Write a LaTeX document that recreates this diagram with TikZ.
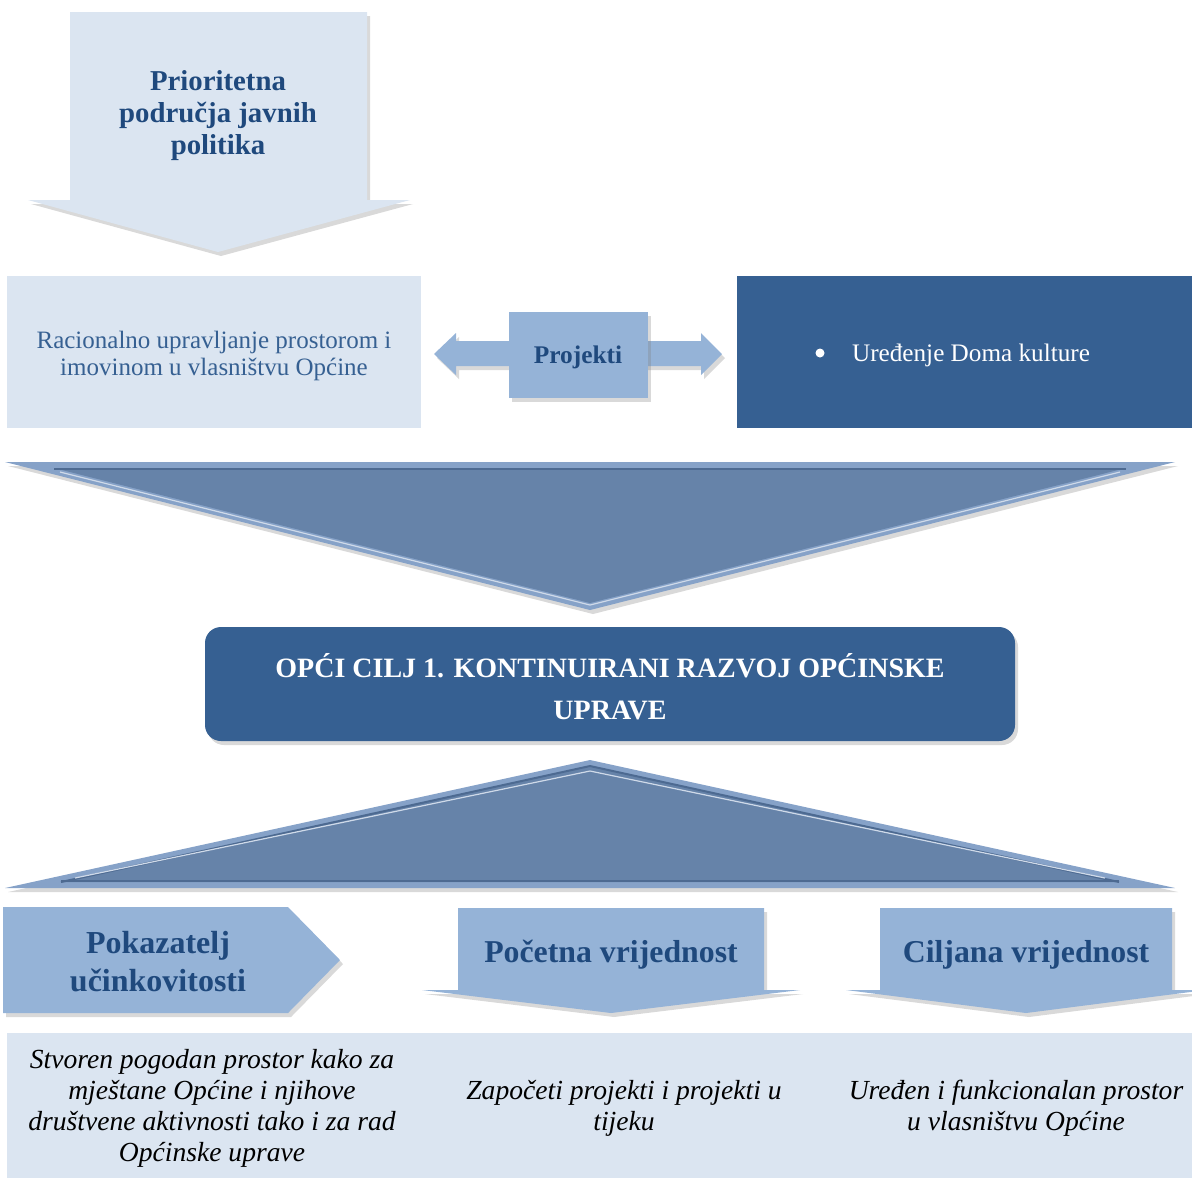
\documentclass[tikz,border=0pt]{standalone}
\usepackage{fontspec}
\setmainfont{Liberation Serif}
\usetikzlibrary{positioning,shadows}
\definecolor{paleblue}{HTML}{DBE5F1}
\definecolor{midblue}{HTML}{95B3D7}
\definecolor{deepblue}{HTML}{366092}
\definecolor{triblue}{HTML}{6683A9}
\definecolor{triedge}{HTML}{86A2C8}
\definecolor{tridark}{HTML}{4D6A91}
\definecolor{inkblue}{HTML}{1F497D}
\tikzstyle{pale}=[fill=paleblue]
\tikzstyle{shd}=[drop shadow={opacity=0.3,shadow xshift=1.5pt,shadow yshift=-2pt}]
\tikzstyle{arrowbox}=[fill=midblue,shd]
\tikzstyle{head}=[font=\bfseries,text=inkblue,align=center]
\tikzstyle{goal}=[font=\itshape\fontsize{13.8}{15.5}\selectfont,align=center]

\begin{document}
\begin{tikzpicture}[x=0.5pt,y=-0.5pt]
  \useasboundingbox (0,0) rectangle (1192,1180);

  % top arrow
  \fill[pale,shd] (70,12) -- (367,12) -- (367,200) -- (410,200) -- (218,252)
      -- (28,200) -- (70,200) -- cycle;
  \node[head,font=\bfseries\fontsize{14.4}{16}\selectfont] (area) at (218,116)
      {Prioritetna\\područja javnih\\politika};

  % measure / projects row
  \fill[pale] (7,276) rectangle (421,428);
  \node[text=deepblue,align=center,font=\fontsize{12.5}{13.5}\selectfont] (measure) at (214,356)
      {Racionalno upravljanje prostorom i\\imovinom u vlasništvu Općine};
  \fill[arrowbox] (434,354) -- (456,333) -- (456,341) -- (701,341) -- (701,333)
      -- (722,354) -- (701,375) -- (701,366) -- (456,366) -- (456,375) -- cycle;
  \fill[arrowbox] (509,312) rectangle (648,398);
  \node[head,font=\bfseries\fontsize{12.7}{14}\selectfont] (proj) at (578,357) {Projekti};
  \fill[deepblue] (737,276) rectangle (1192,428);
  \node[circle,fill=white,inner sep=0pt,minimum size=4.5pt] (dot) at (820,353) {};
  \node[text=white,anchor=west,font=\fontsize{12.6}{14}\selectfont] (doma) at (845,355)
      {Uređenje Doma kulture};

  % big down triangle
  \fill[triedge,shd] (5,462) -- (1175,462) -- (590,610) -- cycle;
  \fill[triblue] (54,468) -- (1126,468) -- (590,603) -- cycle;
  \draw[tridark,line width=1pt] (54,469) -- (1126,469);
  \draw[white!60!triedge,line width=0.6pt] (60,472) -- (590,605) -- (1120,472);

  % general goal
  \fill[deepblue,rounded corners=8pt,shd] (205,627) rectangle (1015,741);
  \node[text=white,font=\bfseries\fontsize{14}{21}\selectfont,align=center] (goal) at (610,687)
      {OPĆI CILJ 1. KONTINUIRANI RAZVOJ OPĆINSKE\\UPRAVE};

  % up triangle
  \fill[triedge,shd] (590,760) -- (1175,888) -- (5,888) -- cycle;
  \fill[triblue] (590,766) -- (1119,882) -- (61,882) -- cycle;
  \draw[tridark,line width=1pt] (61,882) -- (590,766) -- (1119,882);
  \draw[tridark,line width=1pt] (61,881) -- (1119,881);
  \draw[white!60!triedge,line width=0.6pt] (75,878) -- (590,771) -- (1105,878);

  % indicator row
  \fill[arrowbox] (3,907) -- (288,907) -- (340,960) -- (288,1013) -- (3,1013) -- cycle;
  \node[head,font=\bfseries\fontsize{16}{19}\selectfont] (ind) at (158,962)
      {Pokazatelj\\učinkovitosti};
  \fill[arrowbox] (458,908) -- (764,908) -- (764,990) -- (800,990) -- (611,1013)
      -- (422,990) -- (458,990) -- cycle;
  \node[head,font=\bfseries\fontsize{15.9}{19}\selectfont] (start) at (611,955)
      {Početna vrijednost};
  \fill[arrowbox] (880,908) -- (1172,908) -- (1172,990) -- (1206,990) -- (1026,1013)
      -- (846,990) -- (880,990) -- cycle;
  \node[head,font=\bfseries\fontsize{15.9}{19}\selectfont] (target) at (1026,955)
      {Ciljana vrijednost};

  % values
  \fill[pale] (7,1033) rectangle (1192,1178);
  \node[goal] (v1) at (212,1108) {Stvoren pogodan prostor kako za\\mještane Općine i njihove\\društvene aktivnosti tako i za rad\\Općinske uprave};
  \node[goal] (v2) at (624,1108) {Započeti projekti i projekti u\\tijeku};
  \node[goal] (v3) at (1016,1108) {Uređen i funkcionalan prostor\\u vlasništvu Općine};
\end{tikzpicture}
\end{document}
